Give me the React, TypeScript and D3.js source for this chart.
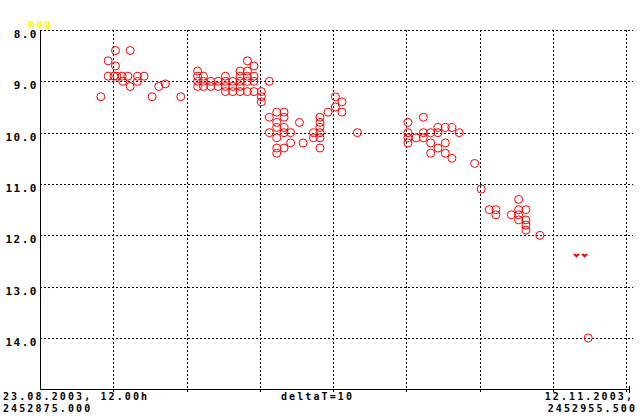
import React from "react";
import * as d3 from "d3";

// Observations: days after JD 2452875.0 and magnitudes
const obsDays = [
  8.3, 9.3, 9.3, 10.3, 10.3, 10.1, 10.5, 11.2, 11.3, 12.0, 12.3, 12.3, 13.3, 13.3, 14.2, 15.3, 16.2, 17.1, 19.2,
  21.5, 21.5, 21.5, 21.5, 22.3, 22.3, 22.3, 23.3, 23.3, 24.3, 24.3, 25.3, 25.3, 25.3, 25.3,
  26.3, 26.3, 26.3, 27.3, 27.3, 27.3, 27.3, 27.3, 28.3, 28.3, 28.3, 28.3, 28.3, 29.2, 29.2, 29.2, 29.2,
  30.2, 30.2, 30.2, 31.3,
  31.3, 31.3, 32.3, 32.3, 32.3, 32.3, 32.3, 32.3, 33.3, 33.3, 33.3, 33.3, 33.3, 34.2, 34.2, 35.4, 35.9,
  37.3, 37.3, 38.2, 38.2, 38.2, 38.2, 38.2, 38.2, 39.3, 40.3, 40.3, 41.2, 41.2, 43.3,
  50.2, 50.2, 50.2, 50.2, 51.3, 52.3, 52.3, 52.3, 53.3, 53.3, 53.3, 54.3, 54.3, 54.3, 55.3, 55.3, 55.3,
  56.2, 56.2, 57.2, 59.3,
  60.2, 61.3, 62.2, 62.2, 64.3, 65.3, 65.3, 65.3, 65.3, 66.3, 66.3, 66.3, 66.3, 68.2, 74.8,
];
const obsMags = [
  9.3, 8.6, 8.9, 8.4, 8.7, 8.9, 8.9, 8.9, 9.0, 8.9, 8.4, 9.1, 8.9, 9.0, 8.9, 9.3, 9.1, 9.05, 9.3,
  8.8, 8.9, 9.0, 9.1, 8.9, 9.0, 9.1, 9.0, 9.1, 9.0, 9.1, 8.9, 9.0, 9.1, 9.2,
  9.0, 9.1, 9.2, 8.8, 8.9, 9.0, 9.1, 9.2, 8.6, 8.8, 8.9, 9.0, 9.2, 8.7, 8.9, 9.0, 9.2,
  9.2, 9.3, 9.4, 9.0,
  9.7, 10.0, 9.6, 9.8, 9.9, 10.1, 10.3, 10.4, 9.6, 9.7, 9.9, 10.0, 10.3, 10.0, 10.2, 9.8, 10.2,
  10.0, 10.1, 9.7, 9.8, 9.9, 10.0, 10.1, 10.3, 9.6, 9.3, 9.5, 9.4, 9.6, 10.0,
  9.8, 10.0, 10.1, 10.2, 10.1, 9.7, 10.0, 10.1, 10.0, 10.2, 10.4, 9.9, 10.0, 10.3, 9.9, 10.2, 10.4,
  9.9, 10.5, 10.0, 10.6,
  11.1, 11.5, 11.5, 11.6, 11.6, 11.3, 11.5, 11.6, 11.7, 11.5, 11.7, 11.8, 11.9, 12.0, 14.0,
];
// Fainter-than estimates
const limitDays = [73.2, 74.3];
const limitMags = [12.4, 12.4];

const yTicks = [8, 9, 10, 11, 12, 13, 14];
const xGridDays = [10, 20, 30, 40, 50, 60, 70, 80];
const startLabel = ["23.08.2003, 12.00h", "2452875.000"];
const endLabel = ["12.11.2003,", "2452955.500"];
const deltaLabel = "deltaT=10";
const yTitle = "mag";

const W = 640;
const H = 420;
const font = "'DejaVu Sans Mono', monospace";

export default function App() {
  const x = d3.scaleLinear().domain([0, 80.5]).range([40, 630]);
  const y = d3.scaleLinear().domain([8, 15]).range([30, 389.3]);
  const x0 = x(0);
  const x1 = x(80.5);
  const yb = y(15);
  const txt = {
    fontFamily: font,
    fontWeight: 700,
    fontSize: 11,
    letterSpacing: 1.5,
  } as const;
  const btxt = {
    fontFamily: font,
    fontWeight: 700,
    fontSize: 10,
    letterSpacing: 2.1,
  } as const;
  const heart = (cx: number, cy: number) =>
    `M${cx - 3},${cy - 2} L${cx - 1},${cy - 2} L${cx},${cy - 1} L${cx + 1},${cy - 2} L${cx + 3},${cy - 2} L${cx + 3},${cy - 1} L${cx},${cy + 2} L${cx - 3},${cy - 1} Z`;
  return (
    <svg
      width={W}
      height={H}
      style={{ position: "absolute", left: 0, top: 0, background: "#fff" }}
    >
      <rect x={0} y={0} width={W} height={H} fill="#fff" />
      {/* horizontal grid */}
      {yTicks.map((m) => (
        <line
          key={"h" + m}
          x1={x0}
          x2={633}
          y1={Math.round(y(m)) + 0.5}
          y2={Math.round(y(m)) + 0.5}
          stroke="#000"
          strokeDasharray="2,2"
          shapeRendering="crispEdges"
        />
      ))}
      {/* vertical grid */}
      {xGridDays.map((d) => (
        <g key={"v" + d}>
          <line
            x1={Math.round(x(d)) + 0.5}
            x2={Math.round(x(d)) + 0.5}
            y1={y(8)}
            y2={yb}
            stroke="#000"
            strokeDasharray="2,2"
            shapeRendering="crispEdges"
          />
          <line
            x1={Math.round(x(d)) + 0.5}
            x2={Math.round(x(d)) + 0.5}
            y1={yb}
            y2={yb + 3}
            stroke="#000"
            shapeRendering="crispEdges"
          />
        </g>
      ))}
      {/* axes */}
      <line x1={x0 + 0.5} x2={x0 + 0.5} y1={y(8)} y2={yb} stroke="#000" shapeRendering="crispEdges" />
      <line x1={x0} x2={x1} y1={Math.round(yb) + 0.5} y2={Math.round(yb) + 0.5} stroke="#000" shapeRendering="crispEdges" />
      <line x1={Math.round(x1) - 0.5} x2={Math.round(x1) - 0.5} y1={yb - 3} y2={yb + 4} stroke="#000" shapeRendering="crispEdges" />
      {/* y labels */}
      {yTicks.map((m) => (
        <text key={"t" + m} x={38} y={y(m) + 8} textAnchor="end" style={txt} fill="#000">
          {m.toFixed(1)}
        </text>
      ))}
      <text x={28} y={27} style={txt} fill="#ffff00">
        {yTitle}
      </text>
      {/* x labels */}
      <text x={3} y={400} style={btxt} fill="#000">{startLabel[0]}</text>
      <text x={3} y={412} style={btxt} fill="#000">{startLabel[1]}</text>
      <text x={281} y={400} style={btxt} fill="#000">{deltaLabel}</text>
      <text x={634} y={400} textAnchor="end" style={btxt} fill="#000">{endLabel[0]}</text>
      <text x={637} y={412} textAnchor="end" style={btxt} fill="#000">{endLabel[1]}</text>
      {/* observations */}
      {obsDays.map((d, i) => (
        <circle
          key={"o" + i}
          cx={x(d)}
          cy={y(obsMags[i])}
          r={4}
          fill="none"
          stroke="#ff0000"
          strokeWidth={1}
        />
      ))}
      {limitDays.map((d, i) => (
        <path key={"l" + i} d={heart(x(d), y(limitMags[i]))} fill="#ff0000" />
      ))}
    </svg>
  );
}
